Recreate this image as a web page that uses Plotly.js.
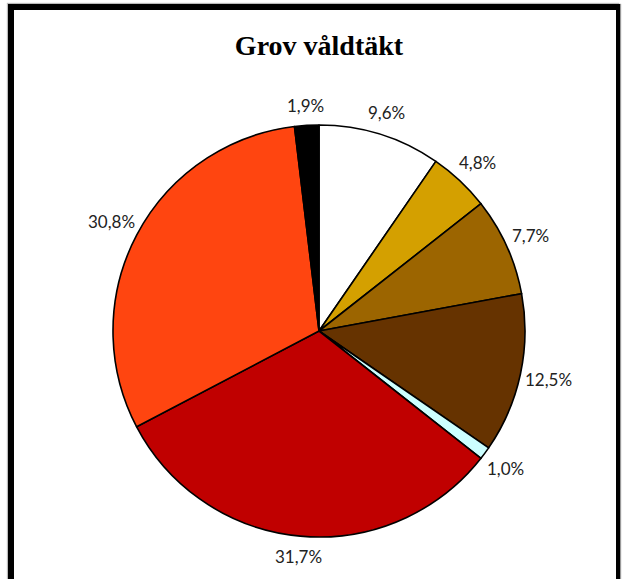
<!DOCTYPE html>
<html>
<head>
<meta charset="utf-8">
<script src="https://cdn.plot.ly/plotly-3.0.1.min.js"></script>
<style>
  html, body { margin: 0; padding: 0; background: #fff; overflow: hidden; }
  #frame { position: absolute; left: 8px; top: 4px; width: 602px; height: 600px;
           border-left: 6px solid #000; border-top: 6px solid #000; border-right: 4px solid #000;
           box-shadow: -1px -1px 1px #bbb, 1px 0 1px #999; }
  #chart { position: absolute; left: 0; top: 0; width: 623px; height: 579px; }
</style>
</head>
<body>
<div id="frame"></div>
<div id="chart"></div>
<script>
const categories = ["A", "B", "C", "D", "E", "F", "G", "H"];
const shares = [9.6, 4.8, 7.7, 12.5, 1.0, 31.7, 30.8, 1.9];
const labelsText = ["9,6%", "4,8%", "7,7%", "12,5%", "1,0%", "31,7%", "30,8%", "1,9%"];
const sliceColors = ["#FFFFFF", "#D4A000", "#9C6500", "#663300", "#CCFFFF", "#C00000", "#FF4510", "#000000"];

const W = 623, H = 579;
const cx = 319, cy = 331, r = 206;

const pieTrace = {
  type: "pie",
  labels: categories,
  values: shares,
  textinfo: "none",
  sort: false,
  direction: "clockwise",
  rotation: 0,
  automargin: false,
  hoverinfo: "none",
  marker: { colors: sliceColors, line: { color: "#000", width: 1.6 } },
  domain: { x: [(cx - r) / W, (cx + r) / W], y: [(H - cy - r) / H, (H - cy + r) / H] }
};

// Data labels placed outside each slice at its mid-angle (derived from the shares)
const total = shares.reduce((a, b) => a + b, 0);
let cum = 0;
const annotations = shares.map((v, i) => {
  const mid = (cum + v / 2) / total;
  cum += v;
  const th = 2 * Math.PI * mid;
  const s = Math.sin(th), c = Math.cos(th);
  const halfW = 4.25 * labelsText[i].length, halfH = 8;
  const extent = Math.abs(s) * halfW + Math.abs(c) * halfH;
  const d = r + 15 + 0.6 * extent;
  const px = cx + d * s;
  const py = cy - d * c;
  return {
    xref: "paper", yref: "paper",
    x: px / W, y: 1 - py / H,
    xanchor: "center", yanchor: "middle",
    text: labelsText[i], showarrow: false,
    font: { family: "Lato, 'Open Sans', sans-serif", size: 17, color: "#222" }
  };
});

const layout = {
  width: W, height: H,
  margin: { l: 0, r: 0, t: 0, b: 0 },
  paper_bgcolor: "rgba(0,0,0,0)",
  plot_bgcolor: "rgba(0,0,0,0)",
  showlegend: false,
  annotations: annotations,
  title: {
    text: "<b>Grov våldtäkt</b>",
    font: { family: "'Liberation Serif', 'DejaVu Serif', serif", size: 28, color: "#000" },
    x: 319 / W, xanchor: "center",
    y: 1 - 45 / H, yanchor: "middle",
    xref: "paper", yref: "paper"
  }
};

Plotly.newPlot("chart", [pieTrace], layout, { staticPlot: true, displayModeBar: false });
</script>
</body>
</html>
